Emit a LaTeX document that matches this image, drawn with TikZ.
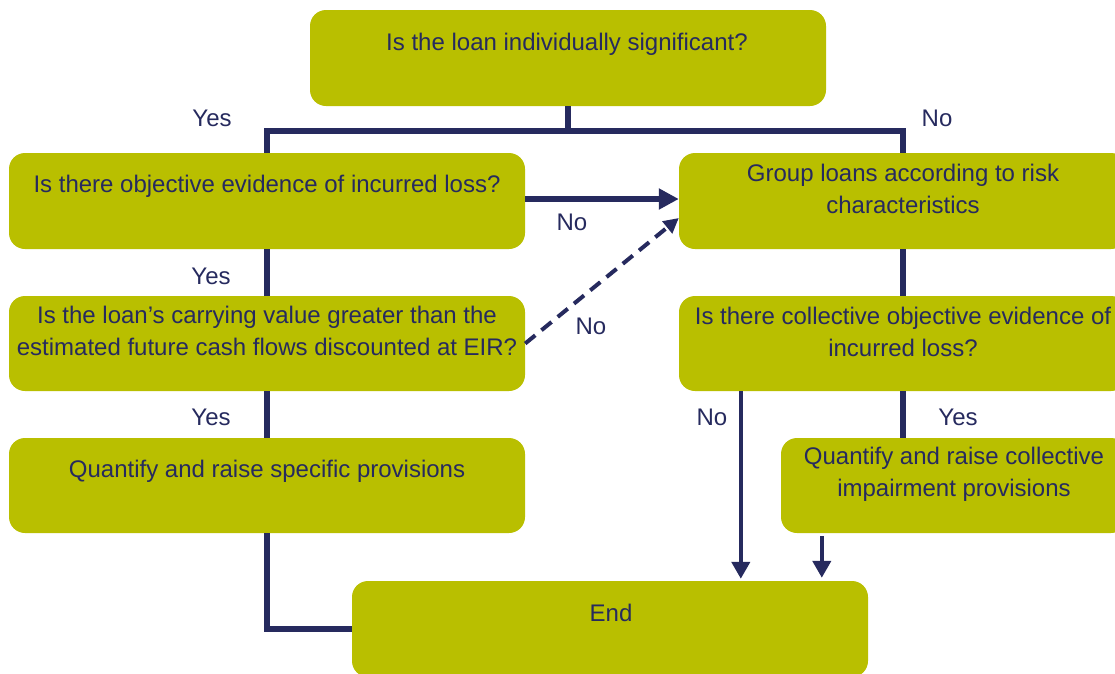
\documentclass[tikz,border=0pt]{standalone}
\usepackage{fontspec}
\setmainfont{Liberation Sans}
\usetikzlibrary{arrows.meta,calc}
\definecolor{boxgreen}{HTML}{B9BF00}
\definecolor{navy}{HTML}{262A5E}
\begin{document}
\begin{tikzpicture}[x=1pt,y=-1pt,
  box/.style={fill=boxgreen, draw=none, rounded corners=16pt, inner sep=0pt, minimum height=96pt},
  txt/.style={text=navy, align=center, font=\fontsize{24}{31.5}\selectfont, inner sep=0pt},
  lbl/.style={text=navy, font=\fontsize{24}{28}\selectfont, inner sep=0pt},
  conn/.style={draw=navy, line width=5.5pt},
  harrow/.style={conn, -{Triangle[length=20pt 0 0,width=20pt 0 0]}},
  varrow/.style={draw=navy, line width=4.5pt, -{Triangle[length=17pt 0 0,width=18pt 0 0]}},
  darrow/.style={draw=navy, line width=4pt, dash pattern=on 13pt off 8pt, -{Triangle[length=15pt 0 0,width=15pt 0 0]}}
]
\useasboundingbox (0,0) rectangle (1115,673);
\clip (0,0) rectangle (1115,673);

% boxes
\node[box, minimum width=516pt] (top) at (568,58) {};
\node[box, minimum width=516pt] (A) at (267,201) {};
\node[box, minimum width=448pt] (B) at (903,201) {};
\node[box, minimum width=516pt, minimum height=95pt] (C) at (267,343.5) {};
\node[box, minimum width=448pt, minimum height=95pt] (D) at (903,343.5) {};
\node[box, minimum width=516pt, minimum height=95pt] (E) at (267,485.5) {};
\node[box, minimum width=346pt, minimum height=95pt] (F) at (954,485.5) {};
\node[box, minimum width=516pt] (G) at (610,629) {};

% texts
\node[txt] (ttop) at (567,44) {Is the loan individually significant?};
\node[txt] (tA) at (267,186) {Is there objective evidence of incurred loss?};
\node[txt] (tB) at (903,189) {Group loans according to risk\\characteristics};
\node[txt] (tC) at (267,331) {Is the loan’s carrying value greater than the\\estimated future cash flows discounted at EIR?};
\node[txt] (tD) at (903,332) {Is there collective objective evidence of\\incurred loss?};
\node[txt] (tE) at (267,471) {Quantify and raise specific provisions};
\node[txt] (tF) at (954,474.5) {Quantify and raise collective\\impairment provisions};
\node[txt] (tG) at (611,613) {End};

% connectors
\coordinate (sp) at ($(top.south)+(0,25)$);
\draw[conn] (top.south) -- (sp);
\draw[conn] (A.north) |- (sp) -| (B.north);
\coordinate (ae) at ($(A.east)+(0,-2)$);
\draw[harrow] (ae) -- (ae -| B.west);
\coordinate (cs) at ($(C.east)+(0,0)$);
\coordinate (bt) at ($(B.west)+(0,17)$);
\draw[darrow] (cs) -- (bt);
\draw[conn] (A.south) -- (C.north);
\draw[conn] (C.south) -- (E.north);
\draw[conn] (E.south) |- (G.west);
\draw[conn] (B.south) -- (D.north);
\draw[conn] (D.south) -- (D.south |- F.north);
\coordinate (dn) at ($(D.south west)+(62,0)$);
\draw[varrow] (dn) -- ($(dn |- G.north)+(0,-2)$);
\coordinate (fn) at ($(F.south west)+(41,3)$);
\draw[varrow] (fn) -- ($(fn |- G.north)+(0,-3)$);

% labels
\node[lbl] (l1) at (212,118) {Yes};
\node[lbl] (l2) at (937,118) {No};
\node[lbl] (l3) at (572,222) {No};
\node[lbl] (l4) at (211,276) {Yes};
\node[lbl] (l5) at (591,326) {No};
\node[lbl] (l6) at (211,417) {Yes};
\node[lbl] (l7) at (712,417) {No};
\node[lbl] (l8) at (958,417) {Yes};
\end{tikzpicture}
\end{document}
